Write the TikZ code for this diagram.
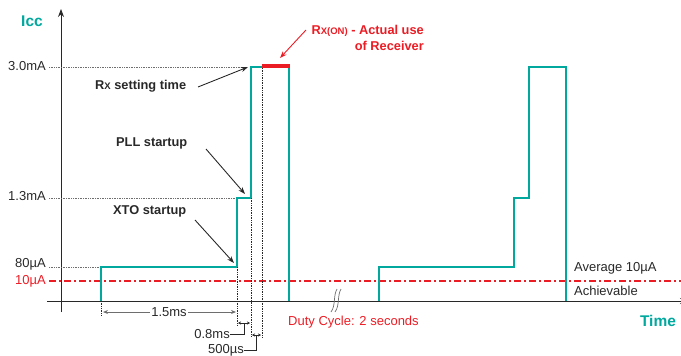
\documentclass[tikz,border=0pt]{standalone}
\usepackage{fontspec}
\setmainfont{Liberation Sans}
\usetikzlibrary{arrows.meta}
\definecolor{tealc}{RGB}{0,168,158}
\definecolor{redc}{RGB}{236,28,36}
\definecolor{dgray}{RGB}{40,40,40}
\definecolor{mgray}{RGB}{110,110,110}
\begin{document}
\begin{tikzpicture}[x=1pt,y=-1pt,
  lbl/.style={font=\fontsize{13}{15}\selectfont, text=dgray, inner sep=0pt},
  blbl/.style={font=\fontsize{12.8}{15}\selectfont\bfseries, text=dgray, inner sep=0pt},
  axis/.style={draw=dgray, line width=0.9pt},
  signal/.style={draw=tealc, line width=2.2pt, line join=miter},
  guide/.style={draw=mgray, densely dotted, line width=0.7pt},
  vguide/.style={draw=dgray, densely dotted, line width=0.7pt},
  dim/.style={draw=mgray, line width=0.9pt},
  callout/.style={draw=dgray, line width=0.9pt, -{Stealth[length=7pt,width=5pt]}},
  avg/.style={draw=redc, line width=1.3pt, dash pattern=on 7pt off 3pt on 2pt off 3pt}
]
\useasboundingbox (0,0) rectangle (681,356);

% axes
\coordinate (yb) at (61,312);
\coordinate (yt) at (61,9);
\coordinate (xl) at (47,301);
\coordinate (xr) at (688,301);
\draw[axis,-{Stealth[length=8pt,width=6pt]}] (yb) -- (yt);
\draw[axis,-{Stealth[length=8pt,width=6pt]}] (xl) -- (xr);
\node[font=\fontsize{15.5}{17}\selectfont\bfseries, text=tealc, inner sep=0pt] (icc) at (32,21) {Icc};
\node[font=\fontsize{15.5}{17}\selectfont\bfseries, text=tealc, inner sep=0pt] (time) at (658,321) {Time};

% level labels
\node[lbl, anchor=east] (l30) at (46,66) {3.0mA};
\node[lbl, anchor=east] (l13) at (46,196) {1.3mA};
\node[lbl, anchor=east] (l80) at (46,264) {80µA};
\node[lbl, anchor=east, text=redc] (l10) at (46,281) {10µA};

% pulse 1 points
\coordinate (a0) at (101,301);
\coordinate (a1) at (101,267);
\coordinate (a2) at (237,267);
\coordinate (a3) at (237,198);
\coordinate (a4) at (251,198);
\coordinate (a5) at (251,67);
\coordinate (a6) at (289,67);
\coordinate (a7) at (289,301);
\coordinate (r0) at (262,66);
\coordinate (r1) at (290,66);

% pulse 2 points
\coordinate (b0) at (379,301);
\coordinate (b1) at (379,267);
\coordinate (b2) at (514,267);
\coordinate (b3) at (514,198);
\coordinate (b4) at (529,198);
\coordinate (b5) at (529,67);
\coordinate (b6) at (566,67);
\coordinate (b7) at (566,301);

% horizontal guides
\draw[guide] (49,67) -- (247,67);
\draw[guide] (49,198) -- (236,198);
\draw[guide] (49,267) -- (100,267);

% average line
\draw[avg] (49,281) -- (681,281);

% signals
\draw[signal] (a0) -- (a1) -- (a2) -- (a3) -- (a4) -- (a5) -- (a6) -- (a7);
\draw[signal] (b0) -- (b1) -- (b2) -- (b3) -- (b4) -- (b5) -- (b6) -- (b7);
\draw[draw=redc, line width=4pt] (r0) -- (r1);

% vertical guides
\draw[vguide] (a0) -- (101,315);
\draw[vguide] (a2) -- (237,325);
\draw[vguide] (a4) -- (251,337);
\draw[vguide] (262,68) -- (262,337);

% dimensions
\coordinate (d15a) at (103,312);
\coordinate (d15b) at (236,312);
\draw[dim, {Stealth[length=5pt,width=4pt]}-{Stealth[length=5pt,width=4pt]}] (d15a) -- (d15b);
\node[lbl, fill=white, inner sep=1pt] (t15) at (169,312) {1.5ms};

\coordinate (d08a) at (238,323);
\coordinate (d08b) at (250,323);
\draw[dgray, line width=0.8pt, {Stealth[length=3pt,width=3pt]}-{Stealth[length=3pt,width=3pt]}] (d08a) -- (d08b);
\node[lbl, anchor=east] (t08) at (230,334) {0.8ms};
\draw[dgray, line width=0.8pt] (244,323) -- (244,334) -- (t08.east);

\coordinate (d05a) at (252,335);
\coordinate (d05b) at (261,335);
\draw[dgray, line width=0.8pt, {Stealth[length=3pt,width=3pt]}-{Stealth[length=3pt,width=3pt]}] (d05a) -- (d05b);
\node[lbl, anchor=east] (t05) at (244,350) {500µs};
\draw[dgray, line width=0.8pt] (256,335) -- (256,350) -- (t05.east);

% callouts
\node[blbl, anchor=west] (rxs) at (95,86) {R{\fontsize{9.5}{11}\selectfont X} setting time};
\coordinate (rxsA) at (198,87);
\coordinate (rxsB) at (248,67);
\draw[callout] (rxsA) -- (rxsB);

\node[blbl, anchor=west] (pll) at (116,143) {PLL startup};
\coordinate (pllA) at (206,149);
\coordinate (pllB) at (245,194);
\draw[callout] (pllA) -- (pllB);

\node[blbl, anchor=west] (xto) at (113,211) {XTO startup};
\coordinate (xtoA) at (195,220);
\coordinate (xtoB) at (234,263);
\draw[callout] (xtoA) -- (xtoB);

\node[font=\fontsize{12.8}{16}\selectfont\bfseries, text=redc, align=right, anchor=north east, inner sep=0pt] (rxon) at (424,25)
  {R{\fontsize{9.5}{11}\selectfont X(ON)} - Actual use\\of Receiver};
\coordinate (rxonA) at (306,30);
\coordinate (rxonB) at (280,58);
\draw[callout, draw=redc] (rxonA) -- (rxonB);

% break symbol
\draw[mgray, line width=0.7pt] (331,312) .. controls (336,305) and (333,296) .. (337,289);
\draw[mgray, line width=0.7pt] (335,312) .. controls (340,305) and (337,296) .. (341,289);

\node[lbl, text=redc, anchor=west] (duty) at (288,322) {Duty Cycle: 2 seconds};

\node[lbl, anchor=west] (avgt) at (574,268) {Average 10µA};
\node[lbl, anchor=west] (ach) at (574,291) {Achievable};
\end{tikzpicture}
\end{document}
